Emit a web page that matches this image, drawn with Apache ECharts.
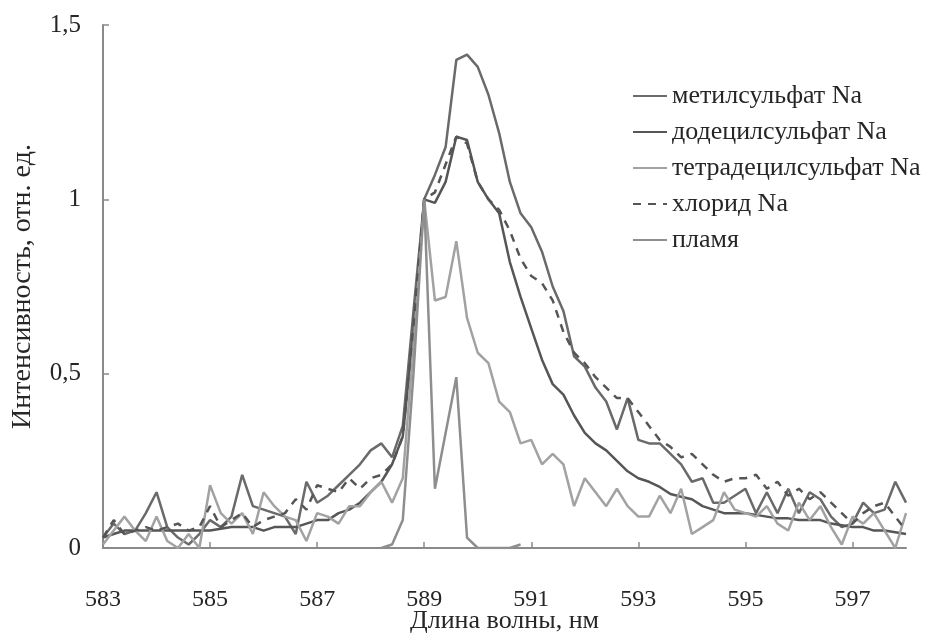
<!DOCTYPE html>
<html>
<head>
<meta charset="utf-8">
<script src="https://cdn.jsdelivr.net/npm/echarts@6/dist/echarts.min.js"></script>
<style>html,body{margin:0;padding:0;background:#fff;}#c{width:929px;height:633px;}</style>
</head>
<body>
<div id="c"></div>
<script>
var wavelengths = [583.0,583.2,583.4,583.6,583.8,584.0,584.2,584.4,584.6,584.8,
585.0,585.2,585.4,585.6,585.8,586.0,586.2,586.4,586.6,586.8,
587.0,587.2,587.4,587.6,587.8,588.0,588.2,588.4,588.6,588.8,
589.0,589.2,589.4,589.6,589.8,590.0,590.2,590.4,590.6,590.8,
591.0,591.2,591.4,591.6,591.8,592.0,592.2,592.4,592.6,592.8,
593.0,593.2,593.4,593.6,593.8,594.0,594.2,594.4,594.6,594.8,
595.0,595.2,595.4,595.6,595.8,596.0,596.2,596.4,596.6,596.8,
597.0,597.2,597.4,597.6,597.8,598.0];

var methylSulfate = [0.03,0.07,0.04,0.05,0.10,0.16,0.06,0.03,0.01,0.04,
0.08,0.06,0.09,0.21,0.12,0.11,0.10,0.09,0.04,0.19,
0.13,0.15,0.18,0.21,0.24,0.28,0.30,0.26,0.35,0.68,
1.00,1.07,1.15,1.40,1.415,1.38,1.30,1.19,1.05,0.96,
0.92,0.85,0.75,0.68,0.55,0.52,0.46,0.42,0.34,0.43,
0.31,0.30,0.30,0.27,0.24,0.19,0.20,0.13,0.13,0.15,
0.17,0.10,0.16,0.10,0.17,0.10,0.16,0.14,0.09,0.06,
0.07,0.13,0.10,0.11,0.19,0.13];

var dodecylSulfate = [0.03,0.04,0.05,0.05,0.05,0.05,0.05,0.05,0.05,0.05,
0.05,0.055,0.06,0.06,0.06,0.05,0.06,0.06,0.06,0.07,
0.08,0.08,0.10,0.11,0.13,0.16,0.19,0.24,0.32,0.62,
1.00,0.99,1.05,1.18,1.17,1.05,1.00,0.96,0.82,0.72,
0.63,0.54,0.47,0.44,0.38,0.33,0.30,0.28,0.25,0.22,
0.20,0.19,0.175,0.155,0.147,0.14,0.12,0.11,0.10,0.10,
0.10,0.095,0.09,0.085,0.085,0.08,0.08,0.08,0.07,0.065,
0.06,0.06,0.05,0.05,0.045,0.04];

var tetradecylSulfate = [0.01,0.05,0.09,0.05,0.02,0.09,0.02,0.00,0.04,0.00,
0.18,0.10,0.07,0.10,0.04,0.16,0.12,0.09,0.08,0.02,
0.10,0.09,0.07,0.12,0.12,0.16,0.19,0.13,0.20,0.58,
1.00,0.71,0.72,0.88,0.66,0.56,0.53,0.42,0.39,0.30,
0.31,0.24,0.27,0.24,0.12,0.20,0.16,0.12,0.17,0.12,
0.09,0.09,0.15,0.10,0.17,0.04,0.06,0.08,0.16,0.11,
0.10,0.09,0.12,0.07,0.05,0.13,0.08,0.12,0.06,0.01,
0.09,0.07,0.10,0.05,0.00,0.10];

var sodiumChloride = [0.03,0.08,0.04,0.05,0.06,0.05,0.06,0.07,0.05,0.06,
0.12,0.06,0.08,0.10,0.06,0.08,0.09,0.10,0.14,0.11,
0.18,0.17,0.16,0.20,0.17,0.20,0.21,0.24,0.32,0.64,
1.00,1.02,1.10,1.18,1.16,1.05,1.00,0.97,0.91,0.83,
0.78,0.76,0.71,0.62,0.56,0.53,0.49,0.46,0.43,0.43,
0.39,0.35,0.31,0.29,0.26,0.27,0.24,0.21,0.19,0.20,
0.20,0.21,0.17,0.19,0.15,0.17,0.14,0.16,0.13,0.10,
0.07,0.10,0.12,0.13,0.09,0.05];

var flame = [null,null,null,null,null,null,null,null,null,null,
null,null,null,null,null,null,null,null,null,null,
null,null,null,null,null,null,0.00,0.01,0.08,0.50,
1.00,0.17,0.33,0.49,0.03,0.00,0.00,0.00,0.00,0.01,
null,null,null,null,null,null,null,null,null,null,
null,null,null,null,null,null,null,null,null,null,
null,null,null,null,null,null,null,null,null,null,
null,null,null,null,null,null];

var seriesNames = ['метилсульфат Na','додецилсульфат Na','тетрадецилсульфат Na','хлорид Na','пламя'];
var yTickLabels = {0:'0',0.5:'0,5',1:'1',1.5:'1,5'};

function pairs(arr){
  var out=[];
  for(var i=0;i<wavelengths.length;i++){ out.push([wavelengths[i], arr[i]]); }
  return out;
}

var FONT = '"Liberation Serif","DejaVu Serif",serif';
var TXT = '#262626';

var chart = echarts.init(document.getElementById('c'), null, {renderer:'canvas'});
function mk(name, data, color, dash){
  return {
    name:name, type:'line', data:pairs(data), symbol:'none', showSymbol:false,
    connectNulls:false, animation:false,
    lineStyle:{color:color, width:2.5, type: dash ? [8,7] : 'solid'},
    itemStyle:{color:color}
  };
}
chart.setOption({
  backgroundColor:'#ffffff',
  animation:false,
  grid:{left:103, right:23, top:25, bottom:85, containLabel:false, outerBoundsMode:'none'},
  legend:{
    orient:'vertical', left:627, top:78, itemWidth:34, itemHeight:14, itemGap:10,
    itemStyle:{opacity:0},
    textStyle:{fontFamily:FONT, fontSize:26, color:TXT, lineHeight:26},
    data:seriesNames
  },
  xAxis:{
    type:'value', min:583, max:598, interval:2,
    name:'Длина волны, нм', nameLocation:'middle', nameGap:60, nameMoveOverlap:false,
    nameTextStyle:{fontFamily:FONT, fontSize:26, color:TXT},
    axisLine:{show:true, lineStyle:{color:'#8a8a8a', width:2}},
    axisTick:{show:true, inside:true, length:6, lineStyle:{color:'#8a8a8a', width:1.5}},
    axisLabel:{fontFamily:FONT, fontSize:24, color:TXT, margin:40, showMaxLabel:false,
      formatter:function(v){ return v >= 598 ? '' : String(v); }},
    splitLine:{show:false}
  },
  yAxis:{
    type:'value', min:0, max:1.5, interval:0.5,
    name:'Интенсивность, отн. ед.', nameLocation:'middle', nameGap:66, nameMoveOverlap:false,
    nameTextStyle:{fontFamily:FONT, fontSize:28, color:TXT},
    axisLine:{show:true, lineStyle:{color:'#8a8a8a', width:2}},
    axisTick:{show:true, inside:true, length:6, lineStyle:{color:'#8a8a8a', width:1.5}},
    axisLabel:{fontFamily:FONT, fontSize:25, color:TXT, margin:22,
      formatter:function(v){ return yTickLabels[v] !== undefined ? yTickLabels[v] : String(v).replace('.',','); }},
    splitLine:{show:false}
  },
  series:[
    mk(seriesNames[0], methylSulfate, '#6a6a6a', false),
    mk(seriesNames[1], dodecylSulfate, '#565656', false),
    mk(seriesNames[2], tetradecylSulfate, '#a2a2a2', false),
    mk(seriesNames[3], sodiumChloride, '#555555', true),
    mk(seriesNames[4], flame, '#8e8e8e', false)
  ]
});
</script>
</body>
</html>
